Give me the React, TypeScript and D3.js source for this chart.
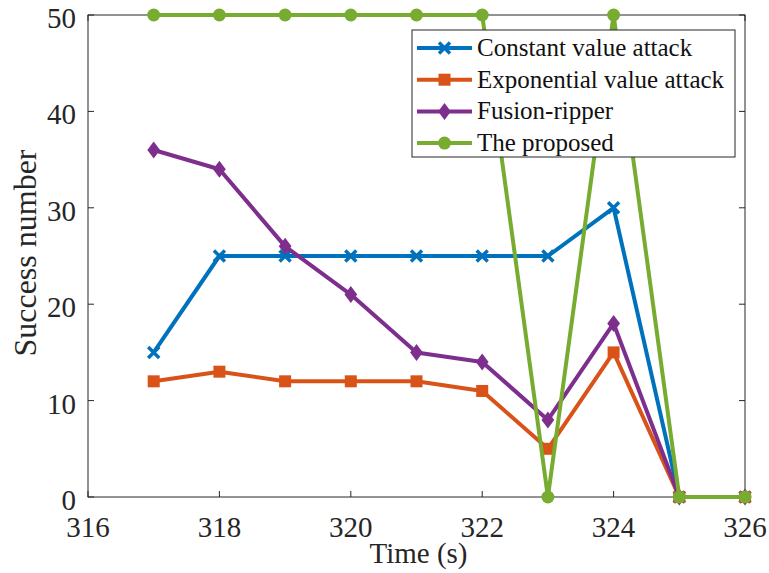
import React from "react";
import * as d3 from "d3";

const times = [317, 318, 319, 320, 321, 322, 323, 324, 325, 326];
const constantAttack = [15, 25, 25, 25, 25, 25, 25, 30, 0, 0];
const exponentialAttack = [12, 13, 12, 12, 12, 11, 5, 15, 0, 0];
const fusionRipper = [36, 34, 26, 21, 15, 14, 8, 18, 0, 0];
const proposed = [50, 50, 50, 50, 50, 50, 0, 50, 0, 0];
const xTicks = [316, 318, 320, 322, 324, 326];
const yTicks = [0, 10, 20, 30, 40, 50];

type MarkerKind = "x" | "square" | "diamond" | "circle";

const seriesList: { name: string; values: number[]; color: string; marker: MarkerKind }[] = [
  { name: "Constant value attack", values: constantAttack, color: "#0072BD", marker: "x" },
  { name: "Exponential value attack", values: exponentialAttack, color: "#D95319", marker: "square" },
  { name: "Fusion-ripper", values: fusionRipper, color: "#7E2F8E", marker: "diamond" },
  { name: "The proposed", values: proposed, color: "#77AC30", marker: "circle" },
];

const W = 769;
const H = 573;
const left = 88;
const right = 745;
const top = 15;
const bottom = 497;
const serif = { fontFamily: "Liberation Serif, serif" };
const axisColor = "#262626";

function Marker({ kind, x, y, color }: { kind: MarkerKind; x: number; y: number; color: string }) {
  if (kind === "x") {
    const s = 5.5;
    return (
      <path
        d={`M${x - s},${y - s}L${x + s},${y + s}M${x - s},${y + s}L${x + s},${y - s}`}
        stroke={color}
        strokeWidth={3.5}
      />
    );
  }
  if (kind === "square") {
    const s = 6;
    return <rect x={x - s} y={y - s} width={2 * s} height={2 * s} fill={color} />;
  }
  if (kind === "diamond") {
    const s = 8.5;
    return <path d={`M${x},${y - s}L${x + s * 0.75},${y}L${x},${y + s}L${x - s * 0.75},${y}Z`} fill={color} />;
  }
  return <circle cx={x} cy={y} r={6.5} fill={color} />;
}

export default function App() {
  const x = d3.scaleLinear().domain([316, 326]).range([left, right]);
  const y = d3.scaleLinear().domain([0, 50]).range([bottom, top]);
  const line = d3
    .line<number>()
    .x((_, i) => x(times[i]))
    .y((d) => y(d));

  const legendX = 412;
  const legendY = 30;
  const legendW = 323;
  const legendH = 127;
  const rowH = 31.7;

  return (
    <svg width={W} height={H} style={{ position: "absolute", left: 0, top: 0, background: "#fff" }}>
      <rect x={0} y={0} width={W} height={H} fill="#fff" />
      {/* axes box */}
      <rect x={left} y={top} width={right - left} height={bottom - top} fill="none" stroke={axisColor} strokeWidth={1} />
      {xTicks.map((t) => (
        <g key={`xt${t}`}>
          <line x1={x(t)} x2={x(t)} y1={bottom} y2={bottom - 6} stroke={axisColor} />
          <line x1={x(t)} x2={x(t)} y1={top} y2={top + 6} stroke={axisColor} />
          <text x={x(t)} y={537} textAnchor="middle" fontSize={29} fill={axisColor} style={serif}>
            {t}
          </text>
        </g>
      ))}
      {yTicks.map((t) => (
        <g key={`yt${t}`}>
          <line x1={left} x2={left + 6} y1={y(t)} y2={y(t)} stroke={axisColor} />
          <line x1={right} x2={right - 6} y1={y(t)} y2={y(t)} stroke={axisColor} />
          <text x={left - 12} y={y(t) + 13} textAnchor="end" fontSize={29} fill={axisColor} style={serif}>
            {t}
          </text>
        </g>
      ))}
      <text x={(left + right) / 2 + 2} y={563} textAnchor="middle" fontSize={29} fill={axisColor} style={serif}>
        Time (s)
      </text>
      <text
        transform={`translate(36, 253) rotate(-90)`}
        textAnchor="middle"
        fontSize={32}
        fill={axisColor}
        style={serif}
      >
        Success number
      </text>

      {/* series */}
      {seriesList.map((s) => (
        <g key={s.name}>
          <path d={line(s.values) ?? ""} fill="none" stroke={s.color} strokeWidth={4} strokeLinejoin="round" />
          {s.values.map((v, i) => (
            <Marker key={i} kind={s.marker} x={x(times[i])} y={y(v)} color={s.color} />
          ))}
        </g>
      ))}

      {/* legend */}
      <rect x={legendX} y={legendY} width={legendW} height={legendH} fill="#fff" stroke={axisColor} strokeWidth={1} />
      {seriesList.map((s, i) => {
        const cy = legendY + 18 + i * rowH;
        return (
          <g key={`lg${s.name}`}>
            <line x1={417} x2={472} y1={cy} y2={cy} stroke={s.color} strokeWidth={4} />
            <Marker kind={s.marker} x={444.5} y={cy} color={s.color} />
            <text x={477} y={cy + 8} fontSize={25} fill="#111" style={serif}>
              {s.name}
            </text>
          </g>
        );
      })}
    </svg>
  );
}
